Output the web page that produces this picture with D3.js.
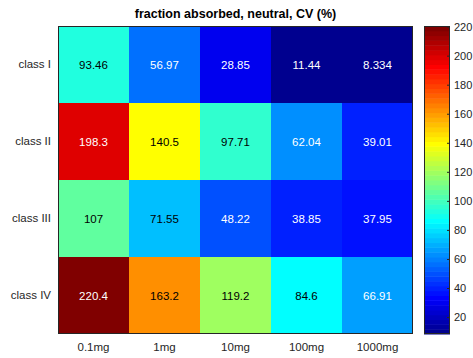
<!DOCTYPE html>
<html>
<head>
<meta charset="utf-8">
<script src="https://cdn.jsdelivr.net/npm/d3@7"></script>
<style>
  html, body { margin: 0; padding: 0; background: #fff; }
  svg { display: block; font-family: "Liberation Sans", Arial, Helvetica, sans-serif; }
</style>
</head>
<body>
<svg id="chart" width="473" height="358"></svg>
<script>
// Dose levels (columns) and compound classes (rows)
const doses = ["0.1mg", "1mg", "10mg", "100mg", "1000mg"];
const classes = ["class I", "class II", "class III", "class IV"];

// Fraction absorbed CV (%) per class, one value per dose
const classI   = [93.46, 56.97, 28.85, 11.44, 8.334];
const classII  = [198.3, 140.5, 97.71, 62.04, 39.01];
const classIII = [107, 71.55, 48.22, 38.85, 37.95];
const classIV  = [220.4, 163.2, 119.2, 84.6, 66.91];

// Colour bar tick values
const colorbarTicks = [20, 40, 60, 80, 100, 120, 140, 160, 180, 200, 220];

const rows = [classI, classII, classIII, classIV];

// MATLAB-style jet colormap with m entries
function jet(m) {
  const n = Math.ceil(m / 4);
  const u = [];
  for (let i = 1; i <= n; i++) u.push(i / n);
  for (let i = 1; i < n; i++) u.push(1);
  for (let i = n; i >= 1; i--) u.push(i / n);
  const off = Math.ceil(n / 2) - (m % 4 === 1 ? 1 : 0);
  const J = Array.from({length: m}, () => [0, 0, 0]);
  u.forEach((val, k) => {
    const g = off + k + 1;         // 1-based
    const r = g + n, b = g - n;
    if (g >= 1 && g <= m) J[g - 1][1] = val;
    if (r >= 1 && r <= m) J[r - 1][0] = val;
    if (b >= 1 && b <= m) J[b - 1][2] = val;
  });
  return J.map(c => d3.rgb(c[0] * 255, c[1] * 255, c[2] * 255).formatHex());
}
const cmap = jet(64);

const cells = [];
rows.forEach((vals, ri) => vals.forEach((v, ci) => cells.push({row: classes[ri], col: doses[ci], value: v})));

const allVals = cells.map(d => d.value);
const vmin = d3.min(allVals), vmax = d3.max(allVals);

const svg = d3.select("#chart");
const plot = {left: 58, top: 26, right: 413, bottom: 334};

const x = d3.scaleBand().domain(doses).range([plot.left, plot.right]);
const y = d3.scaleBand().domain(classes).range([plot.top, plot.bottom]);
const color = d3.scaleQuantize().domain([vmin, vmax]).range(cmap);

// Cell label colour: light text on dark fills
function textColor(v) {
  const c = d3.rgb(color(v));
  const lum = 0.299 * c.r + 0.587 * c.g + 0.114 * c.b;
  return lum < 130 ? "#ffffff" : "#000000";
}

// Heatmap cells
svg.append("g").selectAll("rect").data(cells).join("rect")
  .attr("x", d => x(d.col)).attr("y", d => y(d.row))
  .attr("width", x.bandwidth()).attr("height", y.bandwidth())
  .attr("fill", d => color(d.value))
  .attr("shape-rendering", "crispEdges");

// Values written in each cell
svg.append("g").selectAll("text").data(cells).join("text")
  .attr("x", d => x(d.col) + x.bandwidth() / 2)
  .attr("y", d => y(d.row) + y.bandwidth() / 2)
  .attr("text-anchor", "middle").attr("dominant-baseline", "central")
  .attr("font-size", 11.5)
  .attr("fill", d => textColor(d.value))
  .text(d => d.value);

// Axes frame
svg.append("rect")
  .attr("x", plot.left + 0.5).attr("y", plot.top + 0.5)
  .attr("width", plot.right - plot.left - 1).attr("height", plot.bottom - plot.top - 1)
  .attr("fill", "none").attr("stroke", "#262626").attr("stroke-width", 1);

// Axis labels
const xAxis = svg.append("g").attr("transform", `translate(0,${plot.bottom})`)
  .call(d3.axisBottom(x).tickSize(0).tickPadding(9));
const yAxis = svg.append("g").attr("transform", `translate(${plot.left},0)`)
  .call(d3.axisLeft(y).tickSize(0).tickPadding(7));
[xAxis, yAxis].forEach(a => {
  a.select(".domain").remove();
  a.selectAll("text").attr("font-size", 11.5).attr("fill", "#262626")
    .attr("font-family", "'Liberation Sans', Arial, sans-serif");
});

// Title
svg.append("text")
  .attr("x", (plot.left + plot.right) / 2).attr("y", 18)
  .attr("text-anchor", "middle").attr("font-weight", "bold")
  .attr("font-size", 12.5).attr("fill", "#000")
  .text("fraction absorbed, neutral, CV (%)");

// Colour bar
const cb = {left: 424, right: 450, top: 26, bottom: 334};
const cy = d3.scaleLinear().domain([vmin, vmax]).range([cb.bottom, cb.top]);
const step = (vmax - vmin) / cmap.length;
svg.append("g").selectAll("rect").data(cmap).join("rect")
  .attr("x", cb.left).attr("width", cb.right - cb.left)
  .attr("y", (d, i) => cy(vmin + (i + 1) * step))
  .attr("height", (d, i) => cy(vmin + i * step) - cy(vmin + (i + 1) * step) + 0.5)
  .attr("fill", d => d);

const cbAxis = svg.append("g").attr("transform", `translate(${cb.right},0)`)
  .call(d3.axisRight(cy).tickValues(colorbarTicks).tickSize(-3).tickPadding(4));
cbAxis.select(".domain").remove();
cbAxis.selectAll("line").attr("stroke", "#262626");
cbAxis.selectAll("text").attr("font-size", 11).attr("fill", "#262626")
  .attr("font-family", "'Liberation Sans', Arial, sans-serif");

svg.append("rect")
  .attr("x", cb.left + 0.5).attr("y", cb.top + 0.5)
  .attr("width", cb.right - cb.left - 1).attr("height", cb.bottom - cb.top - 1)
  .attr("fill", "none").attr("stroke", "#262626").attr("stroke-width", 1);
</script>
</body>
</html>
